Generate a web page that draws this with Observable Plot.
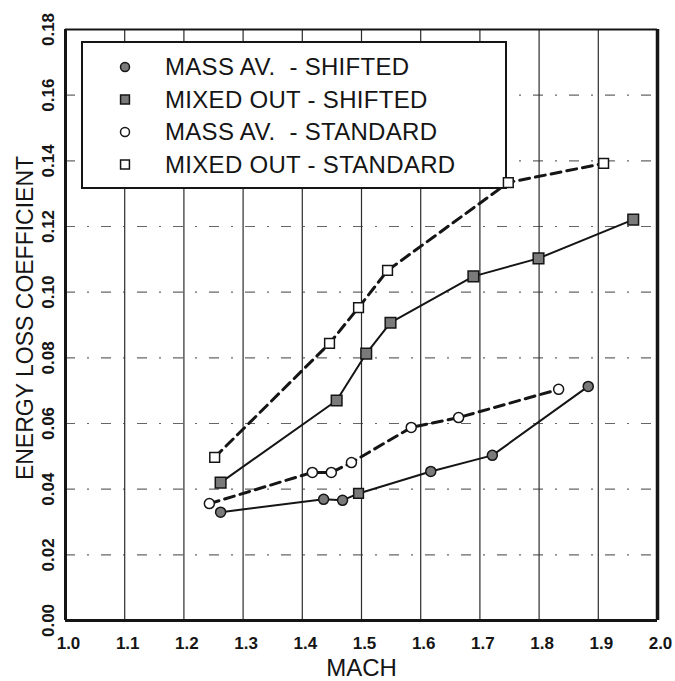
<!DOCTYPE html>
<html><head><meta charset="utf-8">
<script src="https://cdn.jsdelivr.net/npm/d3@7"></script>
<script src="https://cdn.jsdelivr.net/npm/@observablehq/plot@0.6"></script>
<style>body{margin:0;background:#fff} #chart{width:675px;height:681px}</style>
</head><body><div id="chart"></div>
<script>
// Tick values
const xTicks = [1.0, 1.1, 1.2, 1.3, 1.4, 1.5, 1.6, 1.7, 1.8, 1.9, 2.0];
const yTicks = [0, 0.02, 0.04, 0.06, 0.08, 0.10, 0.12, 0.14, 0.16, 0.18];

// Series: MASS AV. - SHIFTED (filled circles, solid)
const massAvShiftedMach = [1.262, 1.436, 1.468, 1.495, 1.617, 1.721, 1.883];
const massAvShiftedLoss = [0.0330, 0.0369, 0.0366, 0.0387, 0.0454, 0.0503, 0.0713];
const massAvShiftedSym  = ["circle", "circle", "circle", "square", "circle", "circle", "circle"];
// Series: MIXED OUT - SHIFTED (filled squares, solid)
const mixedOutShiftedMach = [1.262, 1.458, 1.508, 1.549, 1.689, 1.799, 1.959];
const mixedOutShiftedLoss = [0.0420, 0.0670, 0.0813, 0.0907, 0.1048, 0.1103, 0.1221];
// Series: MASS AV. - STANDARD (open circles, dashed)
const massAvStandardMach = [1.243, 1.417, 1.449, 1.483, 1.584, 1.664, 1.833];
const massAvStandardLoss = [0.0356, 0.0451, 0.0451, 0.0481, 0.0588, 0.0618, 0.0704];
// Series: MIXED OUT - STANDARD (open squares, dashed)
const mixedOutStandardMach = [1.252, 1.446, 1.495, 1.544, 1.748, 1.909];
const mixedOutStandardLoss = [0.0497, 0.0844, 0.0953, 0.1066, 0.1334, 0.1392];

const legendLabels = ["MASS AV.  - SHIFTED", "MIXED OUT - SHIFTED", "MASS AV.  - STANDARD", "MIXED OUT - STANDARD"];
const xLabel = "MACH";
const yLabel = "ENERGY LOSS COEFFICIENT";

const rows = (mach, loss, sym) => mach.map((m, i) => ({mach: m, loss: loss[i], sym: sym ? sym[i] : null}));
const mas = rows(massAvShiftedMach, massAvShiftedLoss, massAvShiftedSym);
const mos = rows(mixedOutShiftedMach, mixedOutShiftedLoss);
const mast = rows(massAvStandardMach, massAvStandardLoss);
const most = rows(mixedOutStandardMach, mixedOutStandardLoss);

const INK = "#151515";
const FILL = "#7a7a7a";

// Legend drawn as an SVG group inside the plot (below the markers, above the lines)
const legendMark = () => {
  const g = d3.create("svg:g");
  g.append("rect").attr("x", 82).attr("y", 42).attr("width", 424).attr("height", 146)
    .attr("fill", "white").attr("stroke", INK).attr("stroke-width", 2);
  const styles = [
    {type: d3.symbolCircle, r: 4.5, fill: FILL},
    {type: d3.symbolSquare, r: 5, fill: FILL},
    {type: d3.symbolCircle, r: 4.5, fill: "white"},
    {type: d3.symbolSquare, r: 5, fill: "white"}
  ];
  legendLabels.forEach((lab, i) => {
    const cy = 67 + i * 32.5;
    const s = styles[i];
    g.append("path").attr("d", d3.symbol(s.type, s.r * s.r * Math.PI)())
      .attr("transform", `translate(125,${cy})`)
      .attr("fill", s.fill).attr("stroke", INK).attr("stroke-width", 1.5);
    g.append("text").attr("x", 165).attr("y", cy).attr("dy", "0.35em")
      .attr("text-anchor", "start")
      .attr("font-size", 24).attr("letter-spacing", "0.3px").attr("fill", INK)
      .attr("xml:space", "preserve").style("white-space", "pre")
      .text(lab);
  });
  return g.node();
};

const chart = Plot.plot({
  width: 675,
  height: 681,
  marginLeft: 65,
  marginRight: 18,
  marginTop: 29,
  marginBottom: 61,
  style: {fontFamily: "'Liberation Sans', Arial, sans-serif", color: INK, background: "white"},
  x: {domain: [1, 2]},
  y: {domain: [0, 0.18]},
  marks: [
    Plot.gridX({ticks: xTicks.slice(1, -1), stroke: INK, strokeOpacity: 0.9, strokeWidth: 1.2}),
    Plot.gridY({ticks: yTicks.slice(1, -1), stroke: "#333", strokeOpacity: 0.75, strokeWidth: 1.2, strokeDasharray: "10,12,2,12"}),
    Plot.ruleX([1], {stroke: INK, strokeWidth: 3}),
    Plot.ruleX([2], {stroke: INK, strokeWidth: 3.5}),
    Plot.ruleY([0], {stroke: INK, strokeWidth: 3}),
    Plot.ruleY([0.18], {stroke: INK, strokeWidth: 2}),
    Plot.axisX({ticks: xTicks, tickFormat: d3.format(".1f"), tickSize: 0, tickPadding: 16, fontSize: 17, fontWeight: "bold", dx: 3, label: null}),
    Plot.axisY({ticks: yTicks, tickFormat: d3.format(".2f"), tickSize: 0, tickRotate: -90, tickPadding: 12, fontSize: 17, fontWeight: "bold", label: null}),
    Plot.text([yLabel], {text: d => d, frameAnchor: "left", rotate: -90, textAnchor: "middle", lineAnchor: "middle", dx: -40, dy: -7, fontSize: 23, fill: INK}),
    Plot.text([xLabel], {text: d => d, frameAnchor: "bottom", textAnchor: "middle", lineAnchor: "middle", dy: 48, fontSize: 24, fill: INK}),
    Plot.line(mas, {x: "mach", y: "loss", stroke: INK, strokeWidth: 2}),
    Plot.line(mos, {x: "mach", y: "loss", stroke: INK, strokeWidth: 2}),
    Plot.line(mast, {x: "mach", y: "loss", stroke: INK, strokeWidth: 3, strokeDasharray: "10,6"}),
    Plot.line(most, {x: "mach", y: "loss", stroke: INK, strokeWidth: 3, strokeDasharray: "10,6"}),
    legendMark,
    Plot.dot(mas, {filter: d => d.sym === "circle", x: "mach", y: "loss", r: 5, fill: FILL, stroke: INK, strokeWidth: 1.5}),
    Plot.dot(mas, {filter: d => d.sym === "square", x: "mach", y: "loss", symbol: "square", r: 5.5, fill: FILL, stroke: INK, strokeWidth: 1.5}),
    Plot.dot(mos, {x: "mach", y: "loss", symbol: "square", r: 6, fill: FILL, stroke: INK, strokeWidth: 1.5}),
    Plot.dot(mast, {x: "mach", y: "loss", r: 5, fill: "white", stroke: INK, strokeWidth: 1.5}),
    Plot.dot(most, {x: "mach", y: "loss", symbol: "square", r: 5.5, fill: "white", stroke: INK, strokeWidth: 1.5})
  ]
});
document.getElementById("chart").appendChild(chart);
</script>
</body></html>
